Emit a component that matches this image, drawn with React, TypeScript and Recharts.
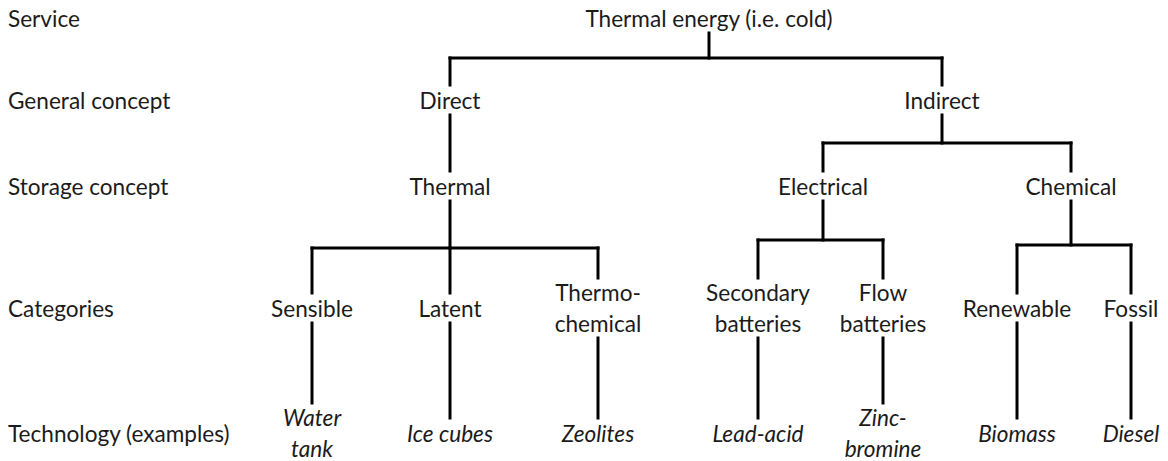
import React from 'react';
import { ComposedChart, XAxis, YAxis, Scatter, ReferenceLine } from 'recharts';

// Hierarchy levels (row labels) and their vertical positions in the diagram's coordinate space
const levelNames = ['Service', 'General concept', 'Storage concept', 'Categories', 'Technology (examples)'];
const levelY = [18, 100, 186, 308, 433];
const rowLabelX = 8;

// Tree nodes
const nodeIds = ['root', 'direct', 'indirect', 'thermal', 'electrical', 'chemical', 'sensible', 'latent', 'thermochem', 'secondary', 'flow', 'renewable', 'fossil', 'water', 'ice', 'zeolites', 'lead', 'zinc', 'biomass', 'diesel'];
const nodeLabels = [
  ['Thermal energy (i.e. cold)'], ['Direct'], ['Indirect'], ['Thermal'], ['Electrical'], ['Chemical'],
  ['Sensible'], ['Latent'], ['Thermo-', 'chemical'], ['Secondary', 'batteries'], ['Flow', 'batteries'],
  ['Renewable'], ['Fossil'],
  ['Water', 'tank'], ['Ice cubes'], ['Zeolites'], ['Lead-acid'], ['Zinc-', 'bromine'], ['Biomass'], ['Diesel'],
];
const nodeLevels = [0, 1, 1, 2, 2, 2, 3, 3, 3, 3, 3, 3, 3, 4, 4, 4, 4, 4, 4, 4];
const nodeX = [709, 450, 942, 450, 823, 1071, 312, 450, 598, 758, 883, 1017, 1131, 312, 450, 598, 758, 883, 1017, 1131];
const nodeParents = [null, 'root', 'root', 'direct', 'indirect', 'indirect', 'thermal', 'thermal', 'thermal', 'electrical', 'electrical', 'chemical', 'chemical', 'sensible', 'latent', 'thermochem', 'secondary', 'flow', 'renewable', 'fossil'];
// y where a parent's branch bar sits (only for parents with several children)
const branchIds = ['root', 'indirect', 'thermal', 'electrical', 'chemical'];
const branchY = [58, 143, 248, 240, 245];

const W = 1168;
const H = 461;
const FONT = 'Lato, "Open Sans", sans-serif';
const FS = 22.6;
const LINE_H = 31;
const INK = '#1b1b1b';

type Node = { id: string; x: number; y: number; lines: string[]; italic: boolean; parent: string | null };

const nodes: Node[] = nodeIds.map((id, i) => ({
  id,
  x: nodeX[i],
  y: levelY[nodeLevels[i]],
  lines: nodeLabels[i],
  italic: nodeLevels[i] === 4,
  parent: nodeParents[i],
}));

const rows = levelNames.map((name, i) => ({ x: rowLabelX, y: levelY[i], name }));

const halfExtent = (n: Node) => (n.lines.length > 1 ? 30 : 15);

type Seg = [{ x: number; y: number }, { x: number; y: number }];
const segments: Seg[] = [];
nodes.forEach((p) => {
  const kids = nodes.filter((n) => n.parent === p.id);
  if (!kids.length) return;
  const bottom = p.y + halfExtent(p);
  const bi = branchIds.indexOf(p.id);
  if (bi < 0) {
    kids.forEach((k) => segments.push([{ x: p.x, y: bottom }, { x: k.x, y: k.y - halfExtent(k) }]));
    return;
  }
  const by = branchY[bi];
  segments.push([{ x: p.x, y: bottom }, { x: p.x, y: by }]);
  const xs = kids.map((k) => k.x);
  segments.push([{ x: Math.min(...xs), y: by }, { x: Math.max(...xs), y: by }]);
  kids.forEach((k) => segments.push([{ x: k.x, y: by }, { x: k.x, y: k.y - halfExtent(k) }]));
});

const NodeLabel = (props: any) => {
  const { cx, cy, payload } = props;
  const lines: string[] = payload.lines;
  const start = cy - ((lines.length - 1) * LINE_H) / 2;
  return (
    <g>
      {lines.map((l, i) => (
        <text
          key={i}
          x={cx}
          y={start + i * LINE_H}
          textAnchor="middle"
          dominantBaseline="central"
          fontFamily={FONT}
          fontSize={FS}
          fontStyle={payload.italic ? 'italic' : 'normal'}
          fill={INK}
        >
          {l}
        </text>
      ))}
    </g>
  );
};

const RowLabel = (props: any) => {
  const { cx, cy, payload } = props;
  return (
    <text x={cx} y={cy} textAnchor="start" dominantBaseline="central" fontFamily={FONT} fontSize={FS} fill={INK}>
      {payload.name}
    </text>
  );
};

export default function App() {
  return (
    <div style={{ position: 'absolute', left: 0, top: 0, background: '#fff' }}>
      <ComposedChart width={W} height={H} margin={{ top: 0, right: 0, bottom: 0, left: 0 }}>
        <XAxis type="number" dataKey="x" domain={[0, W]} hide />
        <YAxis type="number" dataKey="y" domain={[0, H]} reversed hide />
        {segments.map((s, i) => (
          <ReferenceLine key={i} segment={s} stroke="#000" strokeWidth={3} strokeLinecap="square" ifOverflow="visible" />
        ))}
        <Scatter data={rows} shape={RowLabel} isAnimationActive={false} />
        <Scatter data={nodes} shape={NodeLabel} isAnimationActive={false} />
      </ComposedChart>
    </div>
  );
}
